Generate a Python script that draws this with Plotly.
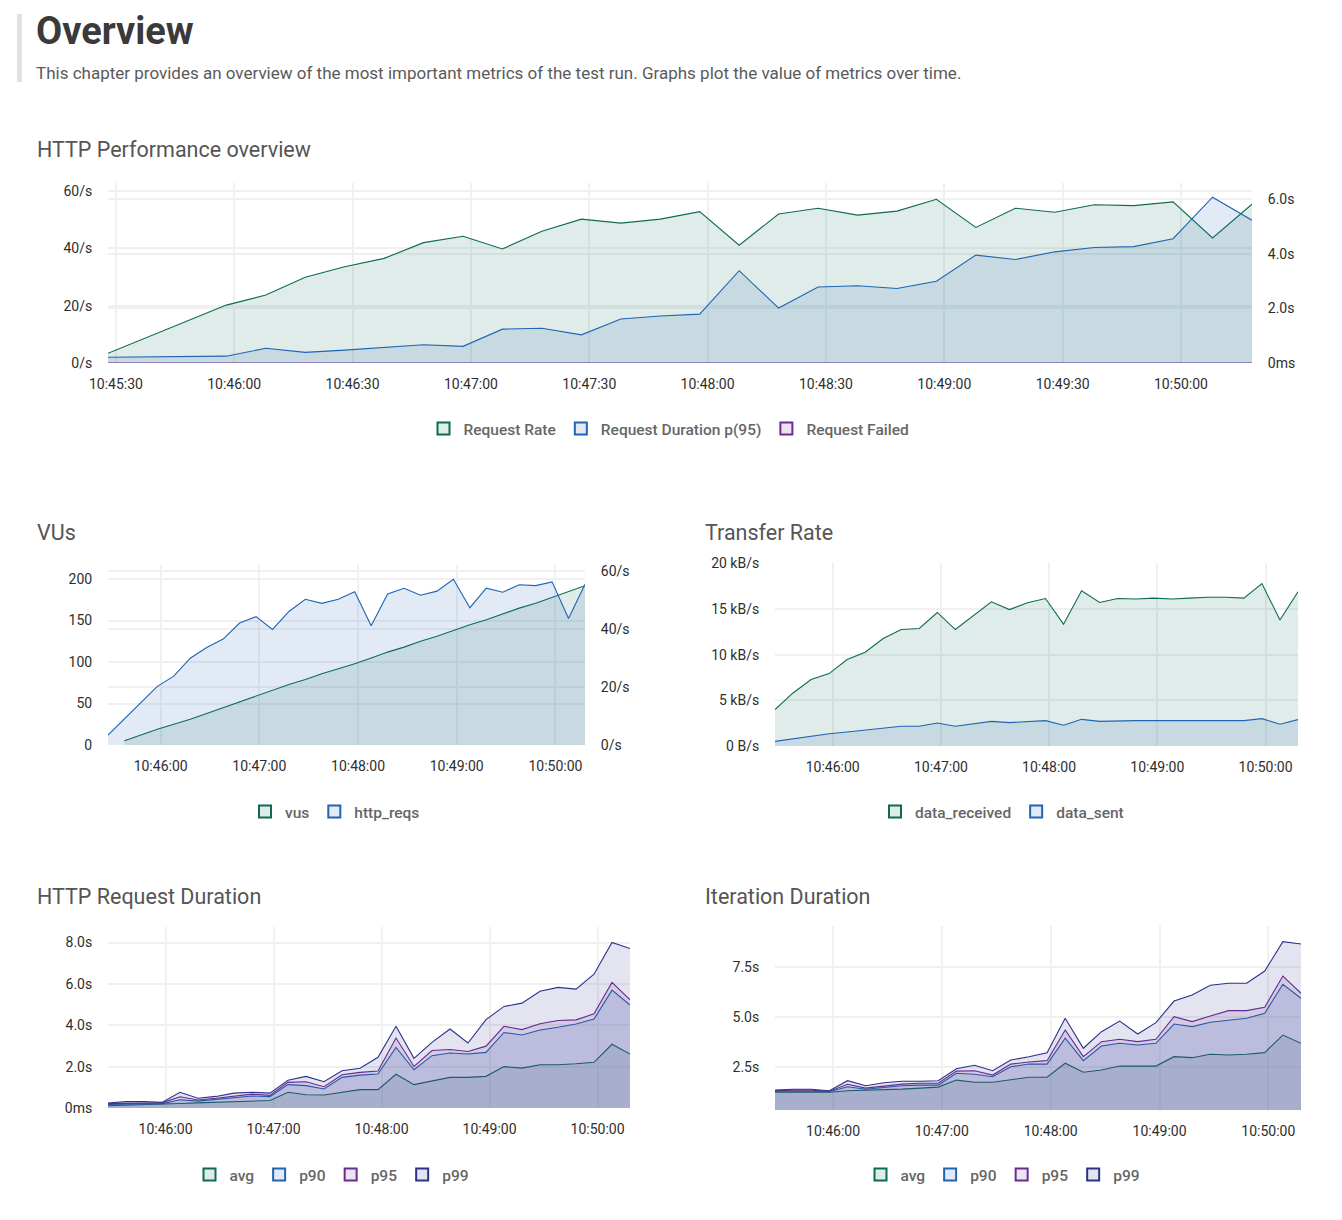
import plotly.graph_objects as go

W, H = 1342, 1220

# ---------------- data ----------------
times = ["10:45:28", "10:45:38", "10:45:48", "10:45:58", "10:46:08", "10:46:18", "10:46:28",
         "10:46:38", "10:46:48", "10:46:58", "10:47:08", "10:47:18", "10:47:28", "10:47:38",
         "10:47:48", "10:47:58", "10:48:08", "10:48:18", "10:48:28", "10:48:38", "10:48:48",
         "10:48:58", "10:49:08", "10:49:18", "10:49:28", "10:49:38", "10:49:48", "10:49:58",
         "10:50:08", "10:50:18"]

request_rate = [3.4, 9.0, 14.5, 20.2, 23.7, 29.9, 33.6, 36.5, 42.0, 44.2, 39.8, 46.0, 50.2, 48.8,
                50.2, 52.8, 41.1, 52.0, 54.0, 51.6, 53.0, 57.1, 47.3, 54.0, 52.6, 55.2, 54.9, 56.2,
                43.6, 55.4]
request_failed = [0, 0, 0, 0, 0, 0, 0, 0, 0, 0, 0, 0, 0, 0, 0, 0, 0, 0, 0, 0, 0, 0, 0, 0, 0, 0,
                  0, 0, 0, 0]

# http_req_duration (seconds)
dur_avg = [0.11, 0.13, 0.15, 0.17, 0.22, 0.25, 0.28, 0.32, 0.35, 0.36, 0.76, 0.64, 0.63, 0.76,
           0.89, 0.89, 1.63, 1.13, 1.29, 1.48, 1.48, 1.53, 2.00, 1.93, 2.09, 2.09, 2.14, 2.21,
           3.08, 2.61]
dur_p90 = [0.17, 0.20, 0.20, 0.20, 0.40, 0.33, 0.42, 0.50, 0.58, 0.55, 1.13, 1.08, 0.92, 1.48,
           1.59, 1.64, 2.93, 1.85, 2.53, 2.66, 2.61, 2.69, 3.65, 3.53, 3.77, 3.90, 4.06, 4.30,
           5.70, 4.98]
dur_p95 = [0.21, 0.23, 0.24, 0.25, 0.54, 0.39, 0.47, 0.58, 0.67, 0.61, 1.24, 1.27, 1.03, 1.61,
           1.72, 1.79, 3.38, 2.01, 2.78, 2.83, 2.73, 2.99, 3.95, 3.79, 4.07, 4.23, 4.26, 4.55,
           6.07, 5.23]
dur_p99 = [0.24, 0.31, 0.31, 0.27, 0.76, 0.47, 0.56, 0.72, 0.76, 0.72, 1.34, 1.53, 1.27, 1.80,
           1.92, 2.45, 3.95, 2.40, 3.17, 3.82, 3.14, 4.27, 4.91, 5.07, 5.64, 5.83, 5.75, 6.47,
           8.00, 7.71]

# vus start one sample later
vus_times = times[1:]
vus = [5, 12, 19, 25, 31, 38, 45, 52, 59, 66, 73, 79, 86, 92, 98, 105, 112, 118, 125, 131, 138,
       145, 151, 158, 165, 171, 178, 185, 192]

# transfer rate (kB/s)
data_received = [3.99, 5.81, 7.28, 7.93, 9.47, 10.27, 11.77, 12.76, 12.87, 14.63, 12.76, 14.30,
                 15.80, 14.95, 15.69, 16.16, 13.35, 17.00, 15.72, 16.16, 16.10, 16.20, 16.10,
                 16.20, 16.30, 16.30, 16.20, 17.80, 13.80, 16.90]
data_sent = [0.51, 0.80, 1.06, 1.35, 1.54, 1.72, 1.90, 2.16, 2.16, 2.52, 2.16, 2.45, 2.70, 2.56,
             2.63, 2.78, 2.27, 2.92, 2.70, 2.78, 2.78, 2.78, 2.78, 2.78, 2.78, 2.78, 2.78, 3.00,
             2.38, 2.89]

# iteration_duration (seconds)
it_avg = [1.23, 1.23, 1.23, 1.22, 1.30, 1.32, 1.33, 1.38, 1.43, 1.48, 1.83, 1.72, 1.72, 1.83,
          1.97, 1.97, 2.67, 2.22, 2.33, 2.53, 2.53, 2.53, 3.00, 2.95, 3.12, 3.08, 3.12, 3.20,
          4.08, 3.67]
it_p90 = [1.27, 1.28, 1.28, 1.25, 1.50, 1.37, 1.45, 1.55, 1.58, 1.58, 2.17, 2.12, 2.00, 2.50,
          2.63, 2.63, 3.92, 2.80, 3.53, 3.67, 3.58, 3.67, 4.63, 4.50, 4.72, 4.83, 4.92, 5.17,
          6.62, 5.92]
it_p95 = [1.30, 1.33, 1.32, 1.27, 1.62, 1.43, 1.53, 1.63, 1.67, 1.67, 2.28, 2.30, 2.08, 2.63,
          2.73, 2.80, 4.33, 3.00, 3.75, 3.87, 3.75, 3.87, 5.00, 4.75, 5.03, 5.30, 5.30, 5.47,
          7.03, 6.17]
it_p99 = [1.33, 1.37, 1.37, 1.30, 1.80, 1.55, 1.70, 1.77, 1.77, 1.80, 2.40, 2.57, 2.30, 2.83,
          3.00, 3.20, 4.92, 3.42, 4.25, 4.78, 4.13, 4.70, 5.78, 6.08, 6.57, 6.67, 6.67, 7.28,
          8.75, 8.63]

DAY = "2023-01-01 "
X = [DAY + t for t in times]
XV = [DAY + t for t in vus_times]

# ---------------- style ----------------
FONT = "Roboto, 'Noto Sans', sans-serif"
GREEN, BLUE, PURPLE, NAVY = "#0d6b54", "#2064b4", "#6c2b93", "#2b328a"
ALPHA = 0.13


def rgba(hexc, a):
    h = hexc.lstrip("#")
    r, g, b = int(h[0:2], 16), int(h[2:4], 16), int(h[4:6], 16)
    return f"rgba({r},{g},{b},{a})"


def px_x(p):
    return p / W


def px_y(p):
    return 1 - p / H


fig = go.Figure()


def area(x, y, color, name, xa, ya, legend):
    grp = f"{legend}-{name}"
    fig.add_trace(go.Scatter(
        x=x, y=y, mode="lines", name=name, xaxis=xa, yaxis=ya,
        line=dict(color=color, width=1.1), fill="tozeroy", fillcolor=rgba(color, ALPHA),
        showlegend=False, legendgroup=grp, hovertemplate="%{y}<extra>" + name + "</extra>"))
    fig.add_trace(go.Scatter(
        x=[None], y=[None], mode="markers", name=name, xaxis=xa, yaxis=ya,
        marker=dict(symbol="square", size=12, color=rgba(color, ALPHA),
                    line=dict(color=color, width=2)),
        showlegend=True, legend=legend, legendgroup=grp, hoverinfo="skip"))


# Chart 1: HTTP Performance overview
area(X, request_rate, GREEN, "Request Rate", "x", "y", "legend")
area(X, dur_p95, BLUE, "Request Duration p(95)", "x", "y2", "legend")
area(X, request_failed, PURPLE, "Request Failed", "x", "y", "legend")

# Chart 2: VUs
area(XV, vus, GREEN, "vus", "x2", "y3", "legend2")
area(X, request_rate, BLUE, "http_reqs", "x2", "y4", "legend2")

# Chart 3: Transfer Rate
area(X, data_received, GREEN, "data_received", "x3", "y5", "legend3")
area(X, data_sent, BLUE, "data_sent", "x3", "y5", "legend3")

# Chart 4: HTTP Request Duration
area(X, dur_avg, GREEN, "avg", "x4", "y6", "legend4")
area(X, dur_p90, BLUE, "p90", "x4", "y6", "legend4")
area(X, dur_p95, PURPLE, "p95", "x4", "y6", "legend4")
area(X, dur_p99, NAVY, "p99", "x4", "y6", "legend4")

# Chart 5: Iteration Duration
area(X, it_avg, GREEN, "avg", "x5", "y7", "legend5")
area(X, it_p90, BLUE, "p90", "x5", "y7", "legend5")
area(X, it_p95, PURPLE, "p95", "x5", "y7", "legend5")
area(X, it_p99, NAVY, "p99", "x5", "y7", "legend5")

TICKFONT = dict(family=FONT, size=14, color="#2e2e2e")
GRID = "#f0f0f0"
XR = [X[0], X[-1]]


def xaxis(l, r, anchor, dtick, tick0):
    return dict(domain=[px_x(l), px_x(r)], anchor=anchor, type="date", range=XR,
                tickformat="%H:%M:%S", dtick=dtick, tick0=DAY + tick0,
                showgrid=True, gridcolor=GRID, gridwidth=2, zeroline=False,
                showline=False, ticks="outside", ticklen=8, tickcolor="rgba(0,0,0,0)",
                tickfont=TICKFONT, fixedrange=True, automargin=False)


def yaxis(t, b, anchor, rng, vals, texts, side="left", overlay=None):
    d = dict(anchor=anchor, range=rng, tickvals=vals, ticktext=texts, side=side,
             showgrid=True, gridcolor=GRID, gridwidth=2, zeroline=False, showline=False,
             ticks="outside", ticklen=12, tickcolor="rgba(0,0,0,0)", tickfont=TICKFONT,
             fixedrange=True, automargin=False)
    if overlay:
        d["overlaying"] = overlay
    else:
        d["domain"] = [px_y(b), px_y(t)]
    return d


layout = dict(
    width=W, height=H, margin=dict(l=0, r=0, t=0, b=0, pad=0, autoexpand=False),
    paper_bgcolor="white", plot_bgcolor="white",
    font=dict(family=FONT, color="#444"),
    hovermode="x unified",
    xaxis=xaxis(108, 1252, "y", 30000, "10:45:30"),
    yaxis=yaxis(183, 363, "x", [0, 62.8], [0, 20, 40, 60], ["0/s", "20/s", "40/s", "60/s"]),
    yaxis2=yaxis(183, 363, "x", [0, 6.59], [0, 2, 4, 6], ["0ms", "2.0s", "4.0s", "6.0s"],
                 side="right", overlay="y"),
    xaxis2=xaxis(108, 585, "y3", 60000, "10:46:00"),
    yaxis3=yaxis(565, 745, "x2", [0, 217], [0, 50, 100, 150, 200],
                 ["0", "50", "100", "150", "200"]),
    yaxis4=yaxis(565, 745, "x2", [0, 62], [0, 20, 40, 60], ["0/s", "20/s", "40/s", "60/s"],
                 side="right", overlay="y3"),
    xaxis3=xaxis(775, 1298, "y5", 60000, "10:46:00"),
    yaxis5=yaxis(563, 746, "x3", [0, 20.05], [0, 5, 10, 15, 20],
                 ["0 B/s", "5 kB/s", "10 kB/s", "15 kB/s", "20 kB/s"]),
    xaxis4=xaxis(108, 630, "y6", 60000, "10:46:00"),
    yaxis6=yaxis(927, 1108, "x4", [0, 8.75], [0, 2, 4, 6, 8],
                 ["0ms", "2.0s", "4.0s", "6.0s", "8.0s"]),
    xaxis5=xaxis(775, 1301, "y7", 60000, "10:46:00"),
    yaxis7=yaxis(926, 1110, "x5", [0.335, 9.53], [2.5, 5, 7.5], ["2.5s", "5.0s", "7.5s"]),
)


def legend(cx, cy):
    return dict(orientation="h", x=px_x(cx), y=px_y(cy), xanchor="center", yanchor="middle",
                font=dict(family=FONT, size=15.5, color="#666", weight=500), itemwidth=30,
                bgcolor="rgba(0,0,0,0)", itemclick="toggle", tracegroupgap=0)


layout["legend"] = legend(669, 429)
layout["legend2"] = legend(335, 812)
layout["legend3"] = legend(1002, 812)
layout["legend4"] = legend(332, 1175)
layout["legend5"] = legend(1003, 1175)

fig.update_layout(**layout)

# header
fig.add_shape(type="rect", xref="paper", yref="paper", x0=px_x(17), x1=px_x(22),
              y0=px_y(82), y1=px_y(14), fillcolor="#e2e2e2", line=dict(width=0))


def label(text, x, y, size, color, bold=False):
    fig.add_annotation(text=f"<b>{text}</b>" if bold else text, xref="paper", yref="paper",
                       x=px_x(x), y=px_y(y), xanchor="left", yanchor="middle", showarrow=False,
                       font=dict(family=FONT, size=size, color=color))


label("Overview", 34, 31, 38, "#3a3a3a", bold=True)
label("This chapter provides an overview of the most important metrics of the test run. "
      "Graphs plot the value of metrics over time.", 34, 73, 17, "#5a5a5a")
label("HTTP Performance overview", 35, 149, 21.5, "#555")
label("VUs", 35, 532, 21.5, "#555")
label("Transfer Rate", 703, 532, 21.5, "#555")
label("HTTP Request Duration", 35, 896, 21.5, "#555")
label("Iteration Duration", 703, 896, 21.5, "#555")

fig.write_html("out.html")
